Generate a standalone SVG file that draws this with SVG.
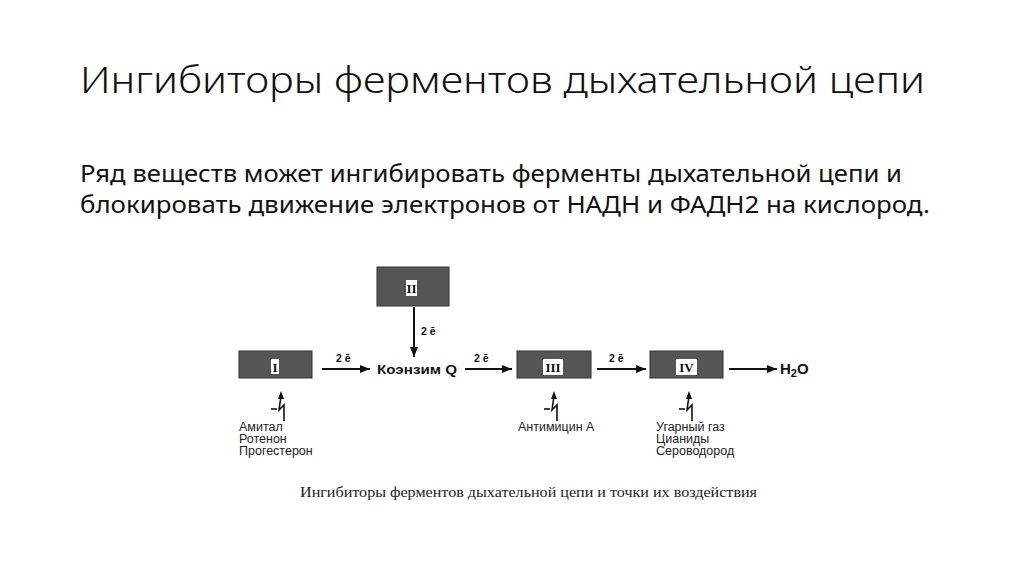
<svg xmlns="http://www.w3.org/2000/svg" width="1024" height="574" viewBox="0 0 1024 574">
<style>
.title{font-family:"Noto Sans","Open Sans",sans-serif;font-size:37px;fill:#111;font-weight:300}
.body{font-family:"Noto Sans","Open Sans",sans-serif;font-size:24px;fill:#111}
.box{fill:#555;stroke:#333;stroke-width:1}
.lbl{fill:#fff}
.num{font-family:"Liberation Serif",serif;font-weight:bold;font-size:13px;fill:#111;text-anchor:middle}
.el{font-family:"Liberation Sans",Arial,sans-serif;font-weight:bold;font-size:10.5px;fill:#111}
.big{font-family:"Liberation Sans",Arial,sans-serif;font-weight:bold;font-size:13.5px;fill:#111}
.h2o{font-family:"Liberation Sans",Arial,sans-serif;font-weight:bold;font-size:15px;fill:#111}
.inh{font-family:"Liberation Sans",Arial,sans-serif;font-size:12.5px;fill:#222}
.cap{font-family:"Liberation Serif","Times New Roman",serif;font-size:14px;fill:#222}
.con{stroke:#111;stroke-width:2;fill:none}
.sym{stroke:#111;stroke-width:1.6;fill:none}
</style>
<defs>
<marker id="ah" viewBox="0 0 10 8" refX="10" refY="4" markerWidth="10" markerHeight="8" markerUnits="userSpaceOnUse" orient="auto">
<path d="M0 0 L10 4 L0 8 Z" fill="#111"/>
</marker>
</defs>
<rect width="1024" height="574" fill="#fff"/>
<text class="title" x="80" y="93" textLength="845" lengthAdjust="spacingAndGlyphs">Ингибиторы ферментов дыхательной цепи</text>
<text class="body" x="80" y="182" textLength="822" lengthAdjust="spacingAndGlyphs">Ряд веществ может ингибировать ферменты дыхательной цепи и</text>
<text class="body" x="80" y="213" textLength="850" lengthAdjust="spacingAndGlyphs">блокировать движение электронов от НАДН и ФАДН2 на кислород.</text>

<g id="connectors">
<line class="con" x1="414" y1="307" x2="414" y2="357" marker-end="url(#ah)"/>
<line class="con" x1="322" y1="369" x2="370" y2="369" marker-end="url(#ah)"/>
<line class="con" x1="465" y1="369" x2="512" y2="369" marker-end="url(#ah)"/>
<line class="con" x1="597" y1="369" x2="646" y2="369" marker-end="url(#ah)"/>
<line class="con" x1="729" y1="369" x2="777" y2="369" marker-end="url(#ah)"/>
<text class="el" x="421" y="335">2 ē</text>
<text class="el" x="336" y="362">2 ē</text>
<text class="el" x="474" y="362">2 ē</text>
<text class="el" x="609" y="362">2 ē</text>
</g>

<g id="complexI">
<rect class="box" x="239" y="351" width="73" height="27"/>
<rect class="lbl" x="271" y="359" width="8" height="15"/>
<text class="num" x="275" y="371.5">I</text>
</g>
<g id="complexII">
<rect class="box" x="377" y="267" width="72" height="39"/>
<rect class="lbl" x="406" y="280" width="11" height="16"/>
<text class="num" x="411.5" y="292.5">II</text>
</g>
<g id="coenzymeQ">
<text class="big" x="377" y="374" textLength="80" lengthAdjust="spacingAndGlyphs">Коэнзим Q</text>
</g>
<g id="complexIII">
<rect class="box" x="517" y="351" width="74" height="27"/>
<rect class="lbl" x="543" y="359" width="20" height="16"/>
<text class="num" x="553" y="372">III</text>
</g>
<g id="complexIV">
<rect class="box" x="650" y="351" width="73" height="27"/>
<rect class="lbl" x="676" y="359" width="21" height="16"/>
<text class="num" x="686.5" y="372">IV</text>
</g>
<g id="water">
<text class="h2o" x="780" y="374">H<tspan style="font-size:11px" dy="3">2</tspan><tspan dy="-3">O</tspan></text>
</g>

<g id="inhibI">
<path class="sym" d="M284 421 L284 405 L279 410 L281 396"/>
<path d="M281 391 L284 399 L278 399 Z" fill="#111"/>
<line class="sym" x1="271" y1="409" x2="277" y2="409"/>
<text class="inh" x="239" y="431">Амитал</text>
<text class="inh" x="239" y="443">Ротенон</text>
<text class="inh" x="239" y="455">Прогестерон</text>
</g>
<g id="inhibIII">
<path class="sym" d="M557 421 L557 405 L552 410 L554 396"/>
<path d="M554 391 L557 399 L551 399 Z" fill="#111"/>
<line class="sym" x1="544" y1="409" x2="550" y2="409"/>
<text class="inh" x="518" y="431">Антимицин А</text>
</g>
<g id="inhibIV">
<path class="sym" d="M692 421 L692 405 L687 410 L689 396"/>
<path d="M689 391 L692 399 L686 399 Z" fill="#111"/>
<line class="sym" x1="679" y1="409" x2="685" y2="409"/>
<text class="inh" x="656" y="431">Угарный газ</text>
<text class="inh" x="656" y="443">Цианиды</text>
<text class="inh" x="656" y="455">Сероводород</text>
</g>

<text class="cap" x="300" y="497" textLength="457" lengthAdjust="spacingAndGlyphs">Ингибиторы ферментов дыхательной цепи и точки их воздействия</text>
</svg>
